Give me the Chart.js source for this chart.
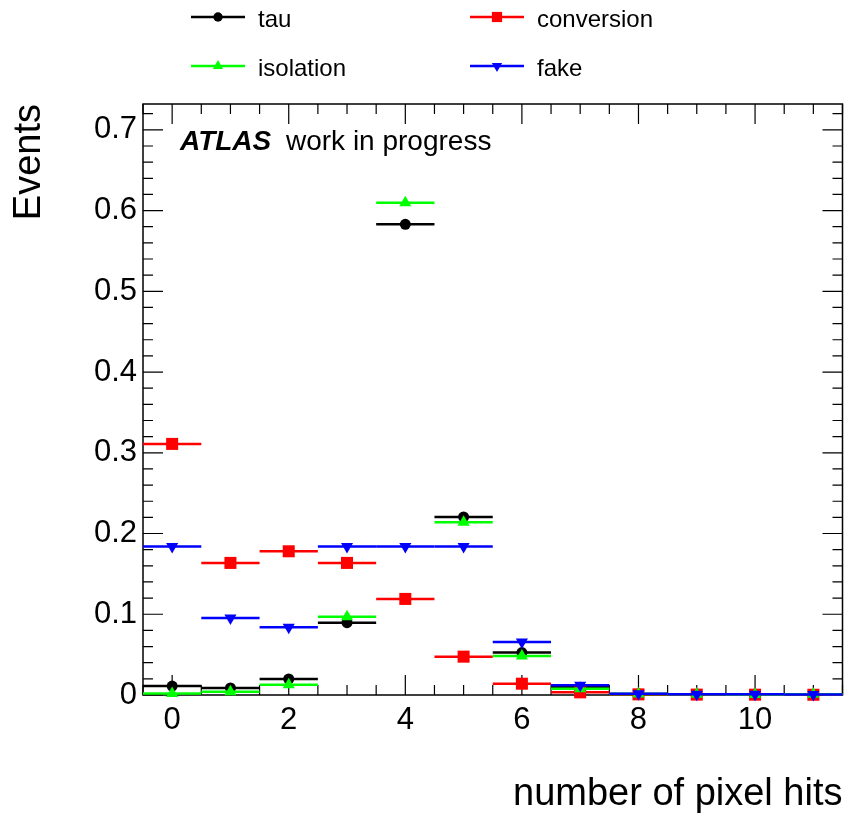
<!DOCTYPE html>
<html>
<head>
<meta charset="utf-8">
<title>number of pixel hits</title>
<script src="https://cdn.jsdelivr.net/npm/chart.js@4.4.1/dist/chart.umd.min.js"></script>
<style>
  html, body { margin: 0; padding: 0; background: #ffffff; }
  #wrap { width: 851px; height: 817px; }
</style>
</head>
<body>
<div id="wrap"><canvas id="chart" width="851" height="817"></canvas></div>
<script>
// Bin centres (number of pixel hits) and normalised event fractions per bin
const pixelHits  = [0, 1, 2, 3, 4, 5, 6, 7, 8, 9, 10, 11];
const tau        = [0.011, 0.0087, 0.0198, 0.0896, 0.583, 0.2206, 0.0525, 0.0095, 0.0012, 0.0008, 0.0006, 0.0004];
const conversion = [0.311, 0.1636, 0.178, 0.1636, 0.119, 0.0475, 0.014, 0.0033, 0.0008, 0.0005, 0.0004, 0.0003];
const isolation  = [0.002, 0.004, 0.0128, 0.097, 0.6097, 0.214, 0.0483, 0.0078, 0.0012, 0.0008, 0.0006, 0.0010];
const fake       = [0.184, 0.0954, 0.084, 0.184, 0.184, 0.184, 0.0657, 0.012, 0.0015, 0.001, 0.001, 0.0005];
const seriesNames = ['tau', 'conversion', 'isolation', 'fake'];

// Axis labels
const xTickLabels = [0, 2, 4, 6, 8, 10];
const yTickLabels = [0, 0.1, 0.2, 0.3, 0.4, 0.5, 0.6, 0.7];
const xTitle = 'number of pixel hits';
const yTitle = 'Events';

const FONT = "'Liberation Sans', Arial, Helvetica, sans-serif";
const BIN_HALF_WIDTH = 0.5;

function points(values) {
  return pixelHits.map((x, i) => ({ x: x, y: values[i] }));
}

const seriesStyle = {
  tau:        { color: '#000000', pointStyle: 'circle',   radius: 5.5, rotation: 0,   order: 4 },
  conversion: { color: '#ff0000', pointStyle: 'rect',     radius: 8.5, rotation: 0,   order: 3 },
  isolation:  { color: '#00ff00', pointStyle: 'triangle', radius: 7,   rotation: 0,   order: 2 },
  fake:       { color: '#0000ff', pointStyle: 'triangle', radius: 7,   rotation: 180, order: 1 }
};
const seriesValues = { tau, conversion, isolation, fake };

const datasets = seriesNames.map(name => {
  const s = seriesStyle[name];
  return {
    label: name,
    data: points(seriesValues[name]),
    showLine: false,
    pointStyle: s.pointStyle,
    pointRadius: s.radius,
    pointHoverRadius: s.radius,
    pointRotation: s.rotation,
    pointBackgroundColor: s.color,
    pointBorderColor: s.color,
    pointBorderWidth: 0,
    borderColor: s.color,
    backgroundColor: s.color,
    order: s.order,
    clip: false
  };
});

// Horizontal bars spanning each bin, drawn just before the markers of the same series
const binWidthBars = {
  id: 'binWidthBars',
  beforeDatasetDraw(chart, args) {
    const ds = chart.data.datasets[args.index];
    const xs = chart.scales.x, ys = chart.scales.y;
    const ctx = chart.ctx;
    ctx.save();
    ctx.strokeStyle = ds.borderColor;
    ctx.lineWidth = 2.5;
    ctx.lineCap = 'butt';
    ds.data.forEach(p => {
      const x1 = xs.getPixelForValue(p.x - BIN_HALF_WIDTH);
      const x2 = xs.getPixelForValue(p.x + BIN_HALF_WIDTH);
      const y = ys.getPixelForValue(p.y);
      ctx.beginPath();
      ctx.moveTo(x1, y);
      ctx.lineTo(x2, y);
      ctx.stroke();
    });
    ctx.restore();
  }
};

// Closed frame with inward ticks on all four sides
const frameTicks = {
  id: 'frameTicks',
  beforeDatasetsDraw(chart) {
    const { ctx, chartArea: a } = chart;
    const xs = chart.scales.x, ys = chart.scales.y;
    ctx.save();
    ctx.strokeStyle = '#000000';
    ctx.lineWidth = 1.5;
    ctx.strokeRect(a.left, a.top, a.right - a.left, a.bottom - a.top);
    ctx.lineWidth = 1.2;
    ctx.beginPath();
    for (let i = 0; i <= 24; i++) {
      const v = -0.5 + i * 0.5;
      const major = Number.isInteger(v) && v % 2 === 0;
      const len = major ? 20 : 10;
      const px = xs.getPixelForValue(v);
      ctx.moveTo(px, a.bottom); ctx.lineTo(px, a.bottom - len);
      ctx.moveTo(px, a.top);    ctx.lineTo(px, a.top + len);
    }
    for (let i = 0; i <= 36; i++) {
      const v = i * 0.02;
      const major = i % 5 === 0;
      const len = major ? 20 : 10;
      const py = ys.getPixelForValue(v);
      ctx.moveTo(a.left, py);  ctx.lineTo(a.left + len, py);
      ctx.moveTo(a.right, py); ctx.lineTo(a.right - len, py);
    }
    ctx.stroke();
    ctx.restore();
  }
};

// Two-column legend above the frame and the experiment label inside it
const legendAndLabel = {
  id: 'legendAndLabel',
  afterDraw(chart) {
    const ctx = chart.ctx;
    const cols = [218, 497];
    const rows = [17, 66];
    ctx.save();
    chart.data.datasets.forEach((ds, i) => {
      const cx = cols[i % 2];
      const cy = rows[Math.floor(i / 2)];
      ctx.strokeStyle = ds.borderColor;
      ctx.lineWidth = 2.5;
      ctx.beginPath();
      ctx.moveTo(cx - 27, cy);
      ctx.lineTo(cx + 27, cy);
      ctx.stroke();
      ctx.fillStyle = ds.pointBackgroundColor;
      ctx.strokeStyle = ds.pointBorderColor;
      Chart.helpers.drawPoint(ctx, {
        pointStyle: ds.pointStyle,
        radius: ds.pointRadius * 0.85,
        rotation: ds.pointRotation,
        borderWidth: 0
      }, cx, cy);
      ctx.fillStyle = '#000000';
      ctx.font = '24px ' + FONT;
      ctx.textAlign = 'left';
      ctx.textBaseline = 'alphabetic';
      ctx.fillText(ds.label, cx + 40, cy + 10);
    });

    ctx.fillStyle = '#000000';
    ctx.textBaseline = 'alphabetic';
    ctx.font = 'italic bold 28px ' + FONT;
    ctx.fillText('ATLAS', 180, 150);
    ctx.font = '28px ' + FONT;
    ctx.fillText('work in progress', 286, 150);
    ctx.restore();
  }
};

new Chart(document.getElementById('chart'), {
  type: 'scatter',
  data: { datasets },
  options: {
    responsive: false,
    animation: false,
    devicePixelRatio: 1,
    events: [],
    layout: { padding: { top: 104, right: 5, left: 0, bottom: 0 } },
    plugins: {
      legend: { display: false },
      tooltip: { enabled: false }
    },
    scales: {
      x: {
        type: 'linear',
        position: 'bottom',
        min: -0.5,
        max: 11.5,
        grid: { display: false, drawTicks: false },
        border: { display: false },
        afterBuildTicks: s => { s.ticks = xTickLabels.map(v => ({ value: v })); },
        afterFit: s => { s.height = 122; },
        ticks: {
          autoSkip: false,
          maxRotation: 0,
          padding: 7,
          color: '#000000',
          font: { family: FONT, size: 31 },
          callback: v => String(v)
        },
        title: {
          display: true,
          text: xTitle,
          align: 'end',
          color: '#000000',
          font: { family: FONT, size: 38 },
          padding: { top: 0, bottom: 0 }
        }
      },
      y: {
        type: 'linear',
        position: 'left',
        min: 0,
        max: 0.732,
        grid: { display: false, drawTicks: false },
        border: { display: false },
        afterBuildTicks: s => { s.ticks = yTickLabels.map(v => ({ value: v })); },
        afterFit: s => { s.width = 143; },
        ticks: {
          autoSkip: false,
          padding: 6,
          color: '#000000',
          font: { family: FONT, size: 31 },
          callback: v => (v === 0 ? '0' : v.toFixed(1))
        },
        title: {
          display: true,
          text: yTitle,
          align: 'end',
          color: '#000000',
          font: { family: FONT, size: 38 },
          padding: { top: 7, bottom: 0 }
        }
      }
    }
  },
  plugins: [binWidthBars, frameTicks, legendAndLabel]
});
</script>
</body>
</html>
